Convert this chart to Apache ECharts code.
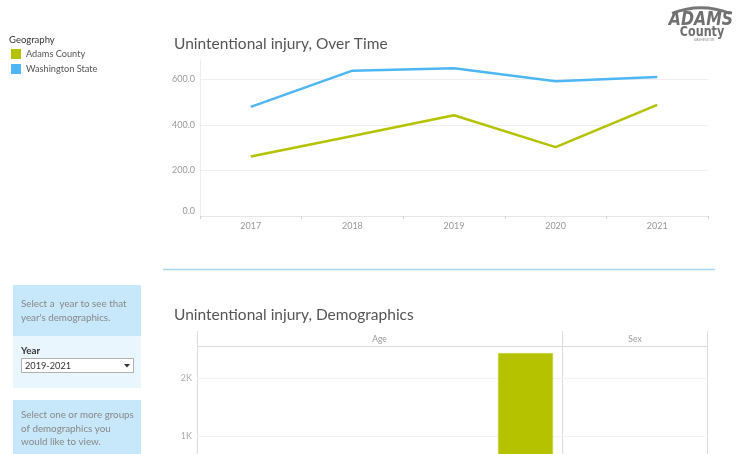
<!DOCTYPE html>
<html>
<head>
<meta charset="utf-8">
<script src="https://cdn.jsdelivr.net/npm/echarts@6/dist/echarts.min.js"></script>
<style>
html,body{margin:0;padding:0;overflow:hidden;background:#fff;}
#c{width:736px;height:520px;}
</style>
</head>
<body>
<div id="c"></div>
<script>
// ---- data ----
var years = ['2017', '2018', '2019', '2020', '2021'];
var adamsCounty = [262, 352, 443, 303, 489];
var washingtonState = [480, 639, 650, 593, 611];
var seriesNames = ['Adams County', 'Washington State'];
var ageGroups = ['Age 1', 'Age 2', 'Age 3', 'Age 4', 'Age 5'];
var ageValues = [null, null, null, null, 2430];
var sexGroups = ['Female', 'Male'];
var sexValues = [null, null];
var yearOptions = ['2019-2021'];

var GREEN = '#b4c200';
var BLUE = '#4fb6f4';
var FONT = 'Lato, "Noto Sans", sans-serif';

var chart = echarts.init(document.getElementById('c'), null, {renderer: 'canvas'});

function txt(x, y, t, size, color, extra) {
  var o = {type: 'text', x: x, y: y, silent: true,
    style: {text: t, fontSize: size, fill: color, fontFamily: FONT, textVerticalAlign: 'middle'}};
  if (extra) for (var k in extra) o.style[k] = extra[k];
  return o;
}
function line(x1, y1, x2, y2, color, w) {
  return {type: 'line', silent: true, shape: {x1: x1, y1: y1, x2: x2, y2: y2},
    style: {stroke: color, lineWidth: w || 1}};
}

var logoFont = '"Liberation Sans Narrow", "DejaVu Sans Condensed", sans-serif';
var adamsText = txt(0, 0, 'ADAMS', 19, '#707070', {textAlign: 'center', fontWeight: 'bold', fontStyle: 'italic', fontFamily: logoFont});
adamsText.x = 701; adamsText.y = 20; adamsText.scaleX = 0.92;
var countyText = txt(0, 0, 'County', 13.5, '#707070', {textAlign: 'center', fontWeight: 'bold', fontFamily: logoFont});
countyText.x = 702; countyText.y = 32.5; countyText.scaleX = 0.92;

var graphics = [
  // legend title
  txt(9, 40, 'Geography', 9.5, '#333'),
  // chart titles
  txt(174, 44, 'Unintentional injury, Over Time', 15.5, '#555'),
  txt(174, 315, 'Unintentional injury, Demographics', 15.5, '#555'),
  // separator
  line(163, 269.5, 715, 269.5, '#a6d8f6', 1.5),
  // left panels
  {type: 'rect', silent: true, shape: {x: 13, y: 285, width: 128, height: 51}, style: {fill: '#c7e7fa'}},
  {type: 'rect', silent: true, shape: {x: 13, y: 336, width: 128, height: 52}, style: {fill: '#eaf6fd'}},
  {type: 'rect', silent: true, shape: {x: 13, y: 400, width: 128, height: 60}, style: {fill: '#c7e7fa'}},
  txt(21, 304, 'Select a  year to see that', 9.8, '#888'),
  txt(21, 318, "year's demographics.", 9.8, '#888'),
  txt(21, 351, 'Year', 9.8, '#333', {fontWeight: 'bold'}),
  {type: 'rect', silent: true, shape: {x: 21.5, y: 358.5, width: 112, height: 14}, style: {fill: '#fff', stroke: '#b0b0b0', lineWidth: 1}},
  txt(25, 366, yearOptions[0], 9.2, '#333'),
  {type: 'polygon', silent: true, shape: {points: [[124, 364], [130, 364], [127, 367.5]]}, style: {fill: '#333'}},
  txt(21, 415, 'Select one or more groups', 9.8, '#888'),
  txt(21, 428.5, 'of demographics you', 9.8, '#888'),
  txt(21, 442, 'would like to view.', 9.8, '#888'),
  // demographics panel frame
  line(197.5, 331, 197.5, 520, '#dcdcdc'),
  line(562.5, 331, 562.5, 520, '#dcdcdc'),
  line(707.5, 331, 707.5, 520, '#dcdcdc'),
  line(197, 346.5, 708, 346.5, '#dcdcdc'),
  txt(379.5, 339, 'Age', 8.5, '#999', {textAlign: 'center'}),
  txt(635, 339, 'Sex', 8.5, '#999', {textAlign: 'center'}),
  // logo
  {type: 'arc', silent: true, shape: {cx: 701, cy: 88, r: 80, startAngle: -Math.PI / 2 - 0.37, endAngle: -Math.PI / 2 + 0.37},
    style: {stroke: '#777', lineWidth: 3, fill: null}},
  adamsText,
  countyText,
  txt(704, 40.5, 'WASHINGTON', 3, '#888', {textAlign: 'center', fontFamily: 'sans-serif'})
];

var option = {
  animation: false,
  textStyle: {fontFamily: FONT},
  color: [GREEN, BLUE],
  legend: {
    left: 11, top: 49, padding: 0, orient: 'vertical', icon: 'rect', itemWidth: 10, itemHeight: 10, itemGap: 5,
    data: seriesNames, selectedMode: false,
    textStyle: {fontSize: 9.2, color: '#555', fontFamily: FONT}
  },
  grid: [
    {left: 200, right: 28, top: 60, bottom: 304, containLabel: false},
    {left: 197, right: 174, top: 346, bottom: 26},
    {left: 562, right: 28, top: 346, bottom: 26}
  ],
  xAxis: [
    {type: 'category', gridIndex: 0, data: years, boundaryGap: true,
      axisLine: {lineStyle: {color: '#e6e6e6'}},
      axisTick: {show: true, length: 3, lineStyle: {color: '#d0d0d0'}},
      axisLabel: {fontSize: 9, color: '#999', margin: 6}},
    {type: 'category', gridIndex: 1, data: ageGroups, show: false},
    {type: 'category', gridIndex: 2, data: sexGroups, show: false}
  ],
  yAxis: [
    {type: 'value', gridIndex: 0, min: 0, max: 686, interval: 200,
      axisLine: {show: true, lineStyle: {color: '#eeeeee'}},
      axisTick: {show: false},
      axisLabel: {fontSize: 9, color: '#999', margin: 5, showMaxLabel: false,
        formatter: function (v) {
          if (v === 0) return '{z|0.0}';
          return v % 200 === 0 ? v.toFixed(1) : '';
        },
        rich: {z: {fontSize: 9, color: '#999', padding: [0, 0, 10, 0]}}},
      splitLine: {show: true, showMaxLine: false, lineStyle: {color: '#efefef'}}},
    {type: 'value', gridIndex: 1, min: 0, max: 2552, interval: 1000,
      axisLine: {show: false},
      axisTick: {show: false},
      axisLabel: {fontSize: 9, color: '#aaa', margin: 5, showMaxLabel: false,
        formatter: function (v) { return v % 1000 === 0 ? (v / 1000) + 'K' : ''; }},
      splitLine: {show: true, showMaxLine: false, lineStyle: {color: '#f2f2f2'}}},
    {type: 'value', gridIndex: 2, min: 0, max: 2552, interval: 1000,
      axisLine: {show: false}, axisTick: {show: false}, axisLabel: {show: false},
      splitLine: {show: true, showMaxLine: false, lineStyle: {color: '#f2f2f2'}}}
  ],
  series: [
    {name: seriesNames[0], type: 'line', xAxisIndex: 0, yAxisIndex: 0, data: adamsCounty,
      symbol: 'none', lineStyle: {width: 2.5, color: GREEN}, itemStyle: {color: GREEN}},
    {name: seriesNames[1], type: 'line', xAxisIndex: 0, yAxisIndex: 0, data: washingtonState,
      symbol: 'none', lineStyle: {width: 2.5, color: BLUE}, itemStyle: {color: BLUE}},
    {name: 'Age', type: 'bar', xAxisIndex: 1, yAxisIndex: 1, data: ageValues, barWidth: 55,
      itemStyle: {color: GREEN, borderColor: '#c9d44d', borderWidth: 0.5}},
    {name: 'Sex', type: 'bar', xAxisIndex: 2, yAxisIndex: 2, data: sexValues, barWidth: 55,
      itemStyle: {color: GREEN}}
  ],
  graphic: graphics
};
chart.setOption(option);
</script>
</body>
</html>
